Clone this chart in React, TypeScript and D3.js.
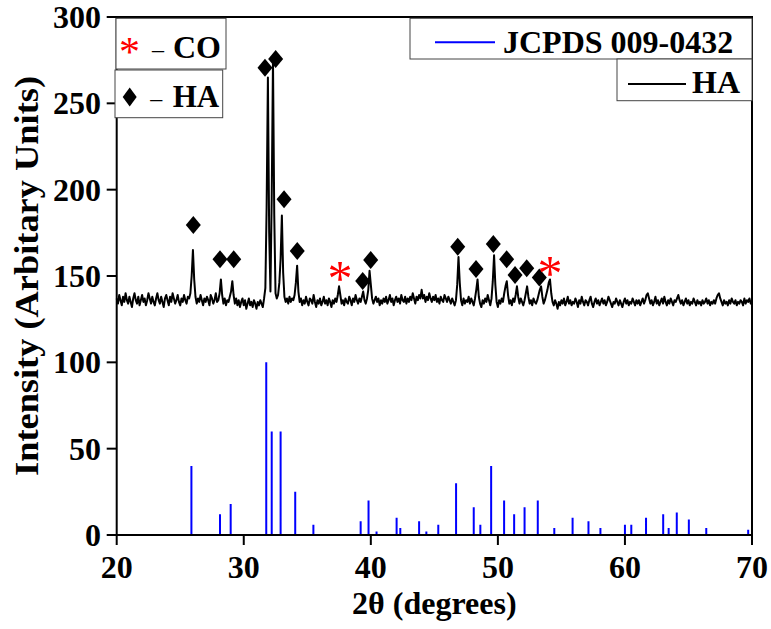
import React from 'react';
import * as d3 from 'd3';

// ---- Data ----
const xDomain = [20, 70];
const yDomain = [0, 300];
const xTicks = [20, 30, 40, 50, 60, 70];
const yTicks = [0, 50, 100, 150, 200, 250, 300];

// HA measured pattern, 2θ from 20.0 to 70.0 in 0.1° steps
const haStart = 20;
const haStep = 0.1;
const haIntensity = [
  137,134,139,136,133,138,135,140,136,134,
  138,135,132,137,140,136,134,138,133,136,
  139,135,137,133,136,140,137,134,138,135,
  133,137,140,136,134,138,135,132,137,139,
  136,133,138,135,140,137,134,136,139,135,
  133,137,135,139,136,134,138,137,140,150,
  165,148,138,134,137,135,139,136,133,137,
  135,138,136,133,139,137,134,136,140,135,
  136,140,148,139,134,137,133,136,135,138,
  141,147,139,134,137,133,136,132,135,137,
  133,136,131,134,137,133,135,132,136,134,
  131,135,133,136,134,132,137,143,190,265,
  175,141,195,275,185,140,137,139,146,160,
  185,152,138,135,137,134,138,135,137,136,
  139,146,156,141,135,137,133,136,134,138,
  135,133,137,136,134,139,135,132,136,134,
  137,133,135,138,134,136,133,137,135,132,
  136,134,137,135,139,144,139,134,136,133,
  137,135,134,138,136,133,137,135,139,136,
  134,137,135,138,141,136,134,137,142,153,
  145,137,134,136,138,135,137,133,136,134,
  137,135,138,134,136,139,135,137,133,136,
  138,135,137,134,139,136,135,138,134,137,
  135,138,136,140,137,134,138,136,139,137,
  142,137,139,135,138,136,140,137,135,138,
  136,139,135,137,134,138,136,135,139,137,
  135,138,136,134,137,135,133,136,145,161,
  146,136,133,137,134,136,135,138,134,137,
  135,133,137,142,148,138,134,132,136,134,
  137,135,139,136,133,137,147,162,145,135,
  132,136,134,137,135,140,144,147,139,134,
  136,133,137,135,139,144,138,134,137,135,
  133,136,140,144,138,134,136,133,137,135,
  134,136,139,142,144,138,134,136,139,142,
  146,148,140,135,133,136,134,131,135,133,
  136,134,137,133,135,138,134,136,133,135,
  134,137,135,132,136,134,138,135,133,136,
  135,133,136,138,134,132,135,137,134,136,
  133,135,137,134,136,133,135,138,136,134,
  132,135,134,137,135,133,136,134,132,135,
  137,134,136,133,135,134,137,135,133,136,
  134,136,133,135,137,134,136,139,140,137,
  134,136,133,135,138,134,136,133,135,137,
  134,138,135,133,136,134,137,135,133,136,
  135,137,139,136,134,136,133,135,137,134,
  136,133,135,134,137,135,133,136,134,135,
  133,136,134,135,137,134,136,133,135,134,
  136,134,137,139,140,137,135,133,136,134,
  135,133,136,134,137,135,134,136,133,135,
  134,136,135,133,137,134,136,135,137,134,
  135,
];

// JCPDS 009-0432 reference lines
const jcpdsAngles = [
  25.88, 28.13, 28.97, 31.77, 32.20, 32.90, 34.05, 35.48, 39.20, 39.82,
  40.45, 42.03, 42.32, 43.80, 44.37, 45.31, 46.71, 48.10, 48.62, 49.47,
  50.49, 51.28, 52.10, 53.14, 54.44, 55.88, 57.13, 58.07, 60.00, 60.50,
  61.66, 63.01, 63.44, 64.08, 65.03, 66.40, 69.70,
];
const jcpdsIntensity = [
  40, 12, 18, 100, 60, 60, 25, 6, 8, 20,
  2, 10, 4, 8, 2, 6, 30, 16, 6, 40,
  20, 12, 16, 20, 4, 10, 8, 4, 6, 6,
  10, 12, 4, 13, 9, 4, 3,
];

// Peak markers
const haMarkAngles = [26.03, 28.13, 29.21, 31.67, 32.51, 33.17, 34.21, 39.36, 39.99, 46.84, 48.28, 49.64, 50.69, 51.35, 52.27, 53.26];
const haMarkLevels = [179.5, 159.7, 159.7, 270.6, 275.7, 194.4, 164.5, 147.1, 159.3, 167.0, 154.0, 168.5, 159.7, 150.6, 154.5, 149.2];
const coMarkAngles = [37.57, 54.1];
const coMarkLevels = [152.5, 155.8];

const FONT = "'Liberation Serif', 'Times New Roman', serif";

function diamondPath(cx: number, cy: number, w: number, h: number) {
  return `M${cx},${cy - h / 2}L${cx + w / 2},${cy}L${cx},${cy + h / 2}L${cx - w / 2},${cy}Z`;
}

export default function App() {
  const W = 771, H = 629;
  const left = 116.7, right = 752, top = 17, bottom = 535;
  const x = d3.scaleLinear().domain(xDomain).range([left, right]);
  const y = d3.scaleLinear().domain(yDomain).range([bottom, top]);

  const haPts: [number, number][] = haIntensity.map((v, i) => [haStart + i * haStep, v]);
  const line = d3.line<[number, number]>().x(d => x(d[0])).y(d => y(d[1]));

  const stickPts: [number, number][] = [];
  jcpdsAngles.forEach((a, i) => {
    stickPts.push([a, 0], [a, jcpdsIntensity[i]], [a, 0]);
  });

  const starSize = 50;

  return (
    <svg width={W} height={H} style={{ position: 'absolute', left: 0, top: 0, display: 'block', background: '#fff' }}>
      <rect x={0} y={0} width={W} height={H} fill="#fff" />
      {/* reference sticks */}
      <path d={line(stickPts) || ''} fill="none" stroke="#0000ff" strokeWidth={2} />
      {/* HA pattern */}
      <path d={line(haPts) || ''} fill="none" stroke="#000" strokeWidth={2} strokeLinejoin="round" />

      {/* markers */}
      {haMarkAngles.map((a, i) => (
        <path key={'d' + i} d={diamondPath(x(a), y(haMarkLevels[i]), 15, 18)} fill="#000" />
      ))}
      {coMarkAngles.map((a, i) => (
        <text key={'s' + i} x={x(a)} y={y(coMarkLevels[i]) + starSize * 0.475} fill="#ff0000" fontFamily={FONT} fontSize={starSize} textAnchor="middle">*</text>
      ))}

      {/* frame */}
      <rect x={left} y={top} width={right - left} height={bottom - top} fill="none" stroke="#000" strokeWidth={2} />

      {/* x axis ticks */}
      {xTicks.map(t => (
        <g key={'xt' + t}>
          <line x1={x(t)} x2={x(t)} y1={bottom} y2={bottom + 10} stroke="#000" strokeWidth={2} />
          <text x={x(t)} y={578} textAnchor="middle" fontFamily={FONT} fontWeight="bold" fontSize={32}>{t}</text>
        </g>
      ))}
      {/* y axis ticks */}
      {yTicks.map(t => (
        <g key={'yt' + t}>
          <line x1={left - 10} x2={left} y1={y(t)} y2={y(t)} stroke="#000" strokeWidth={2} />
          <text x={101} y={y(t) + 11} textAnchor="end" fontFamily={FONT} fontWeight="bold" fontSize={32}>{t}</text>
        </g>
      ))}

      {/* axis titles */}
      <text x={(left + right) / 2} y={614} textAnchor="middle" fontFamily={FONT} fontWeight="bold" fontSize={32}>2θ (degrees)</text>
      <text transform={`translate(38,${(top + bottom) / 2}) rotate(-90)`} textAnchor="middle" fontFamily={FONT} fontWeight="bold" fontSize={34} textLength={400} lengthAdjust="spacingAndGlyphs">Intensity (Arbitary Units)</text>

      {/* left legends */}
      <rect x={116} y={18.3} width={110} height={50.7} fill="#fff" stroke="#444" strokeWidth={1} />
      <text x={129.5} y={46 + 42 * 0.475} fill="#ff0000" fontFamily={FONT} fontSize={42} textAnchor="middle">*</text>
      <text x={158} y={57} fontFamily={FONT} fontSize={24} textAnchor="middle">–</text>
      <text x={173} y={58.3} fontFamily={FONT} fontWeight="bold" fontSize={32}>CO</text>

      <rect x={115} y={70} width={107.7} height={47.7} fill="#fff" stroke="#444" strokeWidth={1} />
      <path d={diamondPath(129.7, 97, 14, 19)} fill="#000" />
      <text x={156.3} y={106} fontFamily={FONT} fontSize={24} textAnchor="middle">–</text>
      <text x={172.7} y={106.7} fontFamily={FONT} fontWeight="bold" fontSize={31}>HA</text>

      {/* right legends */}
      <rect x={410} y={18.3} width={342} height={40.7} fill="#fff" stroke="#444" strokeWidth={1} />
      <line x1={435} x2={495} y1={42.3} y2={42.3} stroke="#0000ff" strokeWidth={2} />
      <text x={503} y={52.7} fontFamily={FONT} fontWeight="bold" fontSize={32}>JCPDS 009-0432</text>
      <rect x={617} y={59} width={135} height={41.7} fill="#fff" stroke="#444" strokeWidth={1} />
      <line x1={628} x2={686} y1={84} y2={84} stroke="#000" strokeWidth={2} />
      <text x={692} y={93.3} fontFamily={FONT} fontWeight="bold" fontSize={32}>HA</text>
    </svg>
  );
}
